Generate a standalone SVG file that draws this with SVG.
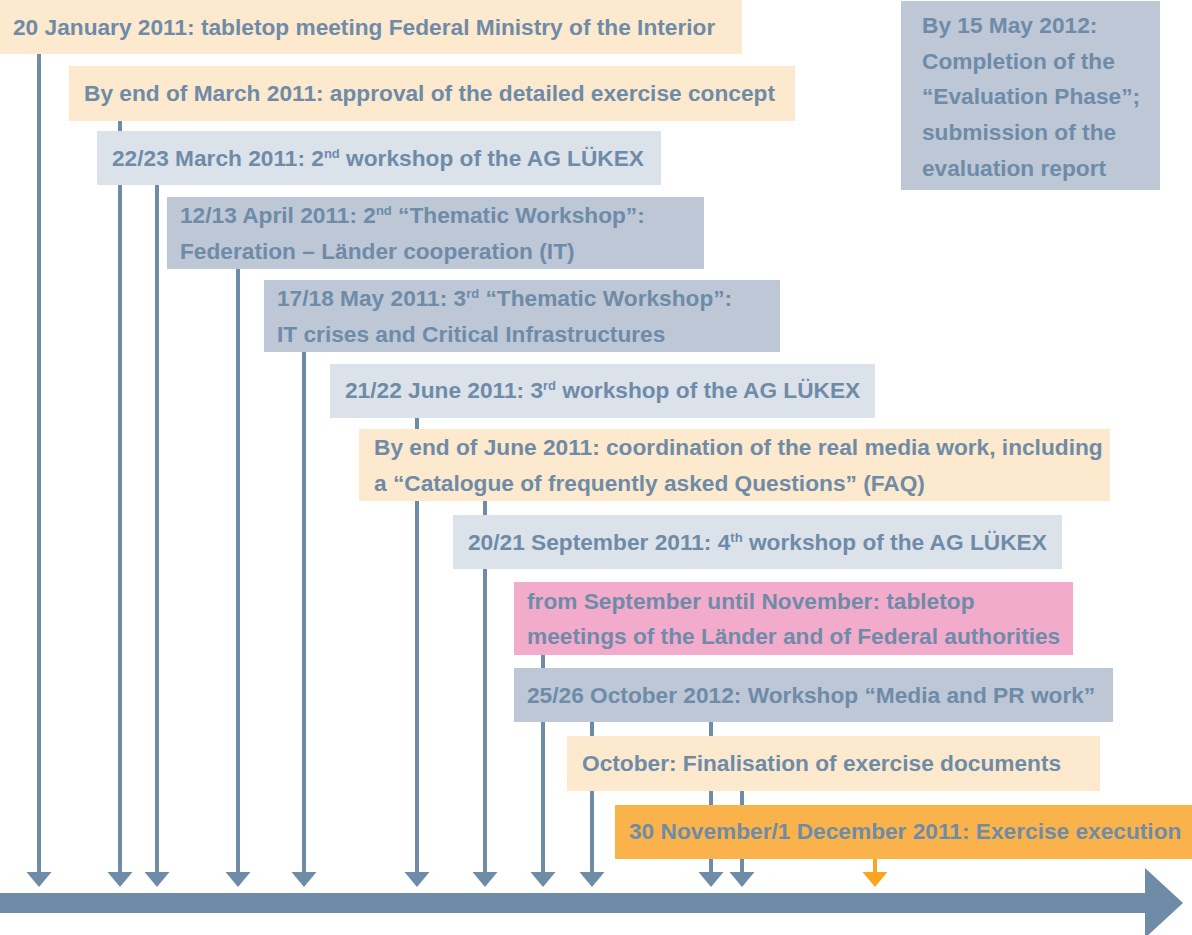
<svg xmlns="http://www.w3.org/2000/svg" width="1192" height="935" viewBox="0 0 1192 935">
  <style>
    text { font-family: "Liberation Sans", Arial, sans-serif; font-weight: bold; font-size: 22.7px; fill: #6e8ba8; }
    .sup { font-size: 13px; }
    .peach { fill: #fde9cd; }
    .light { fill: #dce2ea; }
    .mid { fill: #bdc7d6; }
    .pink { fill: #f3abcc; }
    .orange { fill: #fab34b; }
    .stem { stroke: #6e8ba8; stroke-width: 4; fill: none; }
    .head { fill: #6e8ba8; }
    .stem-o { stroke: #f9a51e; stroke-width: 4; fill: none; }
    .head-o { fill: #f9a51e; }
  </style>
  <defs>
    <polygon id="tip" points="-12.5,872 12.5,872 0,887"/>
  </defs>

  <!-- time axis -->
  <g id="timeline">
    <rect x="0" y="893" width="1146" height="20" fill="#6e8ba8"/>
    <polygon points="1145,868 1183,903 1145,938" fill="#6e8ba8"/>
  </g>

  <!-- drop lines from each milestone to the axis -->
  <g id="connectors">
    <path class="stem" d="M39 54V874 M120 121V874 M157 185V874 M238 269V874 M304 352V874 M417 418V874 M485 501V874 M543 655V874 M592 722V874 M711 722V874 M742 791V874"/>
    <use href="#tip" class="head" x="39"/>
    <use href="#tip" class="head" x="120"/>
    <use href="#tip" class="head" x="157"/>
    <use href="#tip" class="head" x="238"/>
    <use href="#tip" class="head" x="304"/>
    <use href="#tip" class="head" x="417"/>
    <use href="#tip" class="head" x="485"/>
    <use href="#tip" class="head" x="543"/>
    <use href="#tip" class="head" x="592"/>
    <use href="#tip" class="head" x="711"/>
    <use href="#tip" class="head" x="742"/>
    <path class="stem-o" d="M875 859V874"/>
    <use href="#tip" class="head-o" x="875"/>
  </g>

  <g id="m01">
    <rect class="peach" x="0" y="0" width="742" height="54"/>
    <text x="13" y="35">20 January 2011: tabletop meeting Federal Ministry of the Interior</text>
  </g>
  <g id="m02">
    <rect class="peach" x="69" y="66" width="726" height="55"/>
    <text x="84" y="101">By end of March 2011: approval of the detailed exercise concept</text>
  </g>
  <g id="m03">
    <rect class="light" x="97" y="131" width="564" height="54"/>
    <text x="112" y="166">22/23 March 2011: 2<tspan class="sup" dy="-8">nd</tspan><tspan dy="8"> workshop of the AG LÜKEX</tspan></text>
  </g>
  <g id="m04">
    <rect class="mid" x="167" y="197" width="537" height="72"/>
    <text x="180" y="223">12/13 April 2011: 2<tspan class="sup" dy="-8">nd</tspan><tspan dy="8"> “Thematic Workshop”:</tspan></text>
    <text x="180" y="259">Federation – Länder cooperation (IT)</text>
  </g>
  <g id="m05">
    <rect class="mid" x="264" y="280" width="516" height="72"/>
    <text x="277" y="306">17/18 May 2011: 3<tspan class="sup" dy="-8">rd</tspan><tspan dy="8"> “Thematic Workshop”:</tspan></text>
    <text x="277" y="342">IT crises and Critical Infrastructures</text>
  </g>
  <g id="m06">
    <rect class="light" x="330" y="364" width="545" height="54"/>
    <text x="345" y="398">21/22 June 2011: 3<tspan class="sup" dy="-8">rd</tspan><tspan dy="8"> workshop of the AG LÜKEX</tspan></text>
  </g>
  <g id="m07">
    <rect class="peach" x="359" y="429" width="751" height="72"/>
    <text x="374" y="455">By end of June 2011: coordination of the real media work, including</text>
    <text x="374" y="491">a “Catalogue of frequently asked Questions” (FAQ)</text>
  </g>
  <g id="m08">
    <rect class="light" x="453" y="515" width="609" height="54"/>
    <text x="468" y="550">20/21 September 2011: 4<tspan class="sup" dy="-8">th</tspan><tspan dy="8"> workshop of the AG LÜKEX</tspan></text>
  </g>
  <g id="m09">
    <rect class="pink" x="514" y="582" width="559" height="73"/>
    <text x="527" y="609">from September until November: tabletop</text>
    <text x="527" y="644">meetings of the Länder and of Federal authorities</text>
  </g>
  <g id="m10">
    <rect class="mid" x="514" y="668" width="599" height="54"/>
    <text x="527" y="703">25/26 October 2012: Workshop “Media and PR work”</text>
  </g>
  <g id="m11">
    <rect class="peach" x="567" y="736" width="533" height="55"/>
    <text x="582" y="771">October: Finalisation of exercise documents</text>
  </g>
  <g id="m12">
    <rect class="orange" x="615" y="805" width="577" height="54"/>
    <text x="629" y="839">30 November/1 December 2011: Exercise execution</text>
  </g>
  <g id="m13">
    <rect class="mid" x="901" y="1" width="259" height="189"/>
    <text x="922" y="33">By 15 May 2012:</text>
    <text x="922" y="69">Completion of the</text>
    <text x="922" y="104">“Evaluation Phase”;</text>
    <text x="922" y="140">submission of the</text>
    <text x="922" y="176">evaluation report</text>
  </g>
</svg>
